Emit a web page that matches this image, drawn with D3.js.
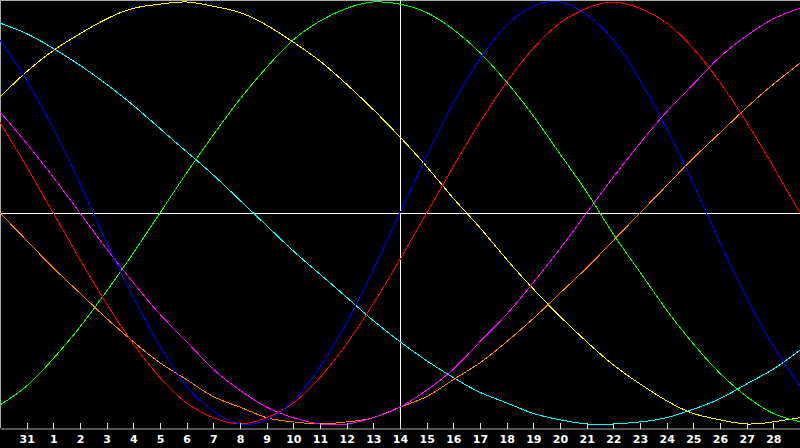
<!DOCTYPE html>
<html>
<head>
<meta charset="utf-8">
<script src="https://cdn.jsdelivr.net/npm/d3@7"></script>
<style>
  html, body { margin: 0; padding: 0; background: #000; }
  svg { display: block; }
  .axis text { font-family: "DejaVu Sans", sans-serif; font-weight: bold; font-size: 11px; fill: #fff; }
</style>
</head>
<body>
<svg id="chart"></svg>
<script>
const width = 800;
const height = 448;

// day labels for tick positions 1..29 (index 0 and 30 unlabeled)
const dayLabels = ["31", "1", "2", "3", "4", "5", "6", "7", "8", "9", "10", "11", "12", "13", "14",
    "15", "16", "17", "18", "19", "20", "21", "22", "23", "24", "25", "26", "27", "28"];
const dayIndex = d3.range(0, 31);

// values read per day (index 0..30), scale -1..1
const blue = [0.82, 0.63, 0.40, 0.14, -0.14, -0.40, -0.63, -0.82, -0.94, -1.00, -0.98, -0.89, -0.73, -0.52, -0.27,
    0.00, 0.27, 0.52, 0.73, 0.89, 0.98, 1.00, 0.94, 0.82, 0.63, 0.40, 0.14, -0.14, -0.40, -0.63, -0.82];
const red = [0.43, 0.22, 0.00, -0.22, -0.43, -0.62, -0.78, -0.90, -0.97, -1.00, -0.97, -0.90, -0.78, -0.62, -0.43,
    -0.22, 0.00, 0.22, 0.43, 0.62, 0.78, 0.90, 0.97, 1.00, 0.97, 0.90, 0.78, 0.62, 0.43, 0.22, 0.00];
const green = [-0.91, -0.82, -0.69, -0.54, -0.37, -0.19, 0.00, 0.19, 0.37, 0.54, 0.69, 0.82, 0.91, 0.97, 1.00,
    0.99, 0.95, 0.87, 0.76, 0.62, 0.46, 0.28, 0.10, -0.10, -0.28, -0.46, -0.62, -0.76, -0.87, -0.95, -0.99];
const magenta = [0.48, 0.33, 0.17, 0.00, -0.17, -0.33, -0.48, -0.61, -0.74, -0.84, -0.92, -0.97, -1.00, -1.00, -0.97,
    -0.92, -0.84, -0.74, -0.61, -0.48, -0.33, -0.17, 0.00, 0.17, 0.33, 0.48, 0.61, 0.74, 0.84, 0.92, 0.97];
const yellow = [0.55, 0.67, 0.77, 0.85, 0.92, 0.97, 0.99, 1.00, 0.98, 0.95, 0.89, 0.81, 0.72, 0.61, 0.49,
    0.36, 0.22, 0.07, -0.07, -0.22, -0.36, -0.49, -0.61, -0.72, -0.81, -0.89, -0.95, -0.98, -1.00, -0.99, -0.97];
const orange = [0.00, -0.13, -0.26, -0.38, -0.50, -0.61, -0.71, -0.79, -0.87, -0.92, -0.97, -0.99, -1.00, -0.99, -0.97,
    -0.92, -0.87, -0.79, -0.71, -0.61, -0.50, -0.38, -0.26, -0.13, 0.00, 0.13, 0.26, 0.38, 0.50, 0.61, 0.71];
const cyan = [0.90, 0.85, 0.78, 0.70, 0.61, 0.51, 0.40, 0.29, 0.18, 0.06, -0.06, -0.18, -0.29, -0.40, -0.51,
    -0.61, -0.70, -0.78, -0.85, -0.90, -0.95, -0.98, -1.00, -1.00, -0.99, -0.97, -0.93, -0.88, -0.81, -0.74, -0.65];

const series = [
    { values: cyan, color: "#00ffff" },
    { values: yellow, color: "#ffff00" },
    { values: orange, color: "#ff8000" },
    { values: magenta, color: "#ff00ff" },
    { values: green, color: "#00ff00" },
    { values: red, color: "#ff0000" },
    { values: blue, color: "#0000ff" }
];

const axisY = 428;

const svg = d3.select("#chart")
    .attr("width", width)
    .attr("height", height)
    .style("background", "#000");

let x = d3.scaleLinear().domain([0, 30]).range([0, width]);
let y = d3.scaleLinear().domain([-1, 1]).range([424, 2]);

// frame (top + left)
svg.append("line").attr("x1", 0).attr("x2", width).attr("y1", 0.5).attr("y2", 0.5)
    .attr("stroke", "#a8a8a8").attr("shape-rendering", "crispEdges");
svg.append("line").attr("x1", 0.5).attr("x2", 0.5).attr("y1", 0).attr("y2", axisY)
    .attr("stroke", "#a8a8a8").attr("shape-rendering", "crispEdges");

// crosshair
svg.append("line").attr("x1", 0).attr("x2", width).attr("y1", y(0) + 0.5).attr("y2", y(0) + 0.5)
    .attr("stroke", "#fff").attr("shape-rendering", "crispEdges");
svg.append("line").attr("x1", x(15) + 0.5).attr("x2", x(15) + 0.5).attr("y1", 0).attr("y2", axisY)
    .attr("stroke", "#fff").attr("shape-rendering", "crispEdges");

let line = d3.line()
    .x((d, i) => x(dayIndex[i]))
    .y(d => y(d))
    .curve(d3.curveNatural);

svg.selectAll(".wave").data(series).enter().append("path")
    .attr("class", "wave")
    .attr("d", d => line(d.values))
    .attr("fill", "none")
    .attr("stroke", d => d.color)
    .attr("stroke-width", 1)
    .attr("shape-rendering", "crispEdges");

// bottom axis with day numbers
let axis = d3.axisBottom(x)
    .tickValues(d3.range(1, 30))
    .tickFormat(d => dayLabels[d - 1])
    .tickSizeInner(-6)
    .tickSizeOuter(0)
    .tickPadding(7);

let gAxis = svg.append("g")
    .attr("class", "axis")
    .attr("transform", `translate(0, ${axisY + 0.5})`)
    .call(axis);

gAxis.select(".domain").attr("stroke", "#a8a8a8").attr("stroke-width", 1);
gAxis.selectAll(".tick line").attr("stroke", "#e0e0e0").attr("shape-rendering", "crispEdges");
</script>
</body>
</html>
